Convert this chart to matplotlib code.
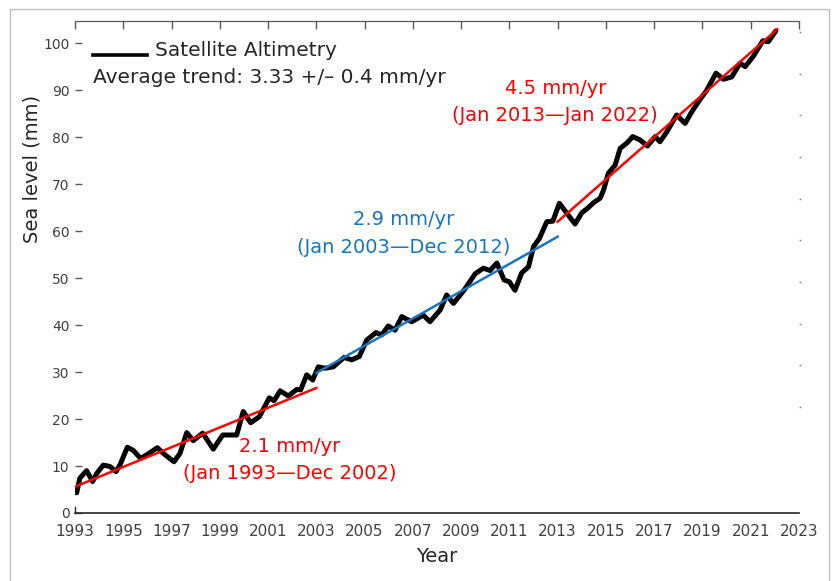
import numpy as np
import matplotlib
matplotlib.use('Agg')
import matplotlib.pyplot as plt
from matplotlib.patches import Rectangle

# Global mean sea level from satellite altimetry (smoothed), mm
years = [1993.07, 1993.2, 1993.48, 1993.73, 1993.9, 1994.17, 1994.45, 1994.7, 1994.86,
         1995.17, 1995.42, 1995.72, 1996.04, 1996.41, 1996.66, 1997.1, 1997.35, 1997.63,
         1997.9, 1998.29, 1998.73, 1999.12, 1999.7, 1999.97, 2000.28, 2000.64, 2001.05,
         2001.25, 2001.5, 2001.84, 2002.19, 2002.35, 2002.6, 2002.85, 2003.08, 2003.36,
         2003.7, 2004.15, 2004.47, 2004.78, 2005.09, 2005.47, 2005.71, 2005.98, 2006.26,
         2006.54, 2006.95, 2007.43, 2007.71, 2008.13, 2008.4, 2008.68, 2009.12, 2009.58,
         2009.92, 2010.2, 2010.48, 2010.78, 2011.0, 2011.23, 2011.51, 2011.79, 2012.0,
         2012.24, 2012.55, 2012.8, 2013.07, 2013.38, 2013.72, 2014.0, 2014.23, 2014.48,
         2014.76, 2014.9, 2015.1, 2015.38, 2015.59, 2015.86, 2016.11, 2016.41, 2016.72,
         2017.04, 2017.24, 2017.52, 2017.93, 2018.28, 2018.56, 2018.83, 2019.18, 2019.56,
         2019.87, 2020.21, 2020.56, 2020.77, 2021.11, 2021.5, 2021.73, 2022.04]
sea_level = [4.3, 7.4, 9.0, 6.7, 8.4, 10.2, 9.9, 8.8, 10.2,
             14.0, 13.3, 11.6, 12.6, 13.9, 12.7, 10.9, 12.7, 17.1,
             15.4, 17.0, 13.6, 16.6, 16.6, 21.6, 19.2, 20.5, 24.5,
             23.9, 26.0, 24.9, 26.3, 26.2, 29.4, 28.3, 31.1, 30.8,
             31.1, 33.1, 32.6, 33.3, 36.8, 38.4, 37.9, 39.8, 38.9,
             41.8, 40.7, 42.1, 40.7, 43.2, 46.4, 44.6, 47.4, 50.9,
             52.1, 51.6, 53.2, 49.6, 49.2, 47.4, 51.1, 52.4, 56.7,
             58.4, 62.0, 62.1, 65.9, 63.8, 61.5, 63.9, 64.8, 66.0,
             67.0, 68.7, 72.3, 74.0, 77.6, 78.7, 80.1, 79.4, 78.1,
             80.1, 79.0, 81.1, 84.7, 82.9, 85.4, 87.5, 90.0, 93.6,
             92.3, 92.8, 95.7, 95.0, 97.2, 100.5, 100.3, 102.6]

# Linear trends per period: start year, end year, value at start, rate (mm/yr)
trend_start = [1993.0, 2003.0, 2013.0]
trend_end = [2003.0, 2013.0, 2022.1]
trend_v0 = [5.6, 29.8, 62.0]
trend_rate = [2.1, 2.9, 4.5]
trend_colors = ['#ff0000', '#1a75bc', '#ff0000']
trend_labels = ['2.1 mm/yr\n(Jan 1993\u2014Dec 2002)',
                '2.9 mm/yr\n(Jan 2003\u2014Dec 2012)',
                '4.5 mm/yr\n(Jan 2013\u2014Jan 2022)']
label_pos = [(2001.9, 11.2), (2006.6, 59.5), (2012.9, 87.5)]

xticks = list(range(1993, 2024, 2))
yticks = list(range(0, 101, 10))

fig = plt.figure(figsize=(8.36, 5.81), dpi=100)
ax = fig.add_axes([75 / 836, 1 - 513 / 581, 724 / 836, 492 / 581])

ax.plot(years, sea_level, color='black', lw=3.6, solid_joinstyle='round',
        solid_capstyle='round', zorder=3)

for s, e, v0, r, c, lab, pos in zip(trend_start, trend_end, trend_v0, trend_rate,
                                     trend_colors, trend_labels, label_pos):
    xs = np.array([s, e])
    ax.plot(xs, v0 + r * (xs - s), color=c, lw=1.8, zorder=4)
    ax.text(pos[0], pos[1], lab, color=c, fontsize=14, ha='center', va='center',
            linespacing=1.55)

ax.set_xlim(1993, 2023)
ax.set_ylim(0, 104.7)
ax.set_xticks(xticks)
ax.set_yticks(yticks)

grey = '#404040'
for side in ['left', 'right']:
    ax.spines[side].set_visible(False)
ax.spines['top'].set_color('#595959')
ax.spines['bottom'].set_color('#262626')
ax.spines['bottom'].set_linewidth(1.2)
ax.tick_params(axis='x', bottom=True, top=False, length=0, labelsize=11,
               labelcolor=grey, pad=8)
ax.tick_params(axis='y', direction='in', length=5, width=1, color='#595959',
               labelsize=10, labelcolor=grey, pad=4)

# top axis ticks pointing inward
top = ax.secondary_xaxis('top')
top.set_xticks(xticks)
top.tick_params(direction='in', length=6, width=1, color='#595959', labelsize=0,
                labeltop=False)
top.spines['top'].set_color('#595959')

# small stub at the origin
ax.plot([1993, 1993], [0, 1.3], color='#262626', lw=1, clip_on=False)

# faint tick dots on the right edge
ax2 = ax.twinx()
ax2.set_ylim(0, 104.7)
ax2.set_yticks(np.arange(22.6, 103, 8.86))
ax2.tick_params(axis='y', direction='out', length=1.2, width=1, color='#8c8c8c',
                labelright=False, pad=0)
for side in ['left', 'right', 'top', 'bottom']:
    ax2.spines[side].set_visible(False)

ax.set_xlabel('Year', fontsize=14, color='#262626', labelpad=6)
ax.set_ylabel('Sea level (mm)', fontsize=14, color='#262626')
ax.yaxis.set_label_coords(-0.046, 0.70)

# legend entry drawn by hand
ax.plot([0.025, 0.0994], [0.931, 0.931], color='black', lw=2.6, transform=ax.transAxes)
ax.text(0.1105, 0.941, 'Satellite Altimetry', transform=ax.transAxes, fontsize=14.5,
        color='#262626', va='center', ha='left')
ax.text(0.025, 0.886, 'Average trend: 3.33 +/\u2013 0.4 mm/yr', transform=ax.transAxes,
        fontsize=14.5, color='#262626', va='center', ha='left')

fig.patches.append(Rectangle((10 / 836, -0.01), 819 / 836, 1.0048 - 0.01,
                             transform=fig.transFigure, fill=False,
                             edgecolor='#c0c0c0', lw=1))

fig.savefig('out.png', dpi=100)
